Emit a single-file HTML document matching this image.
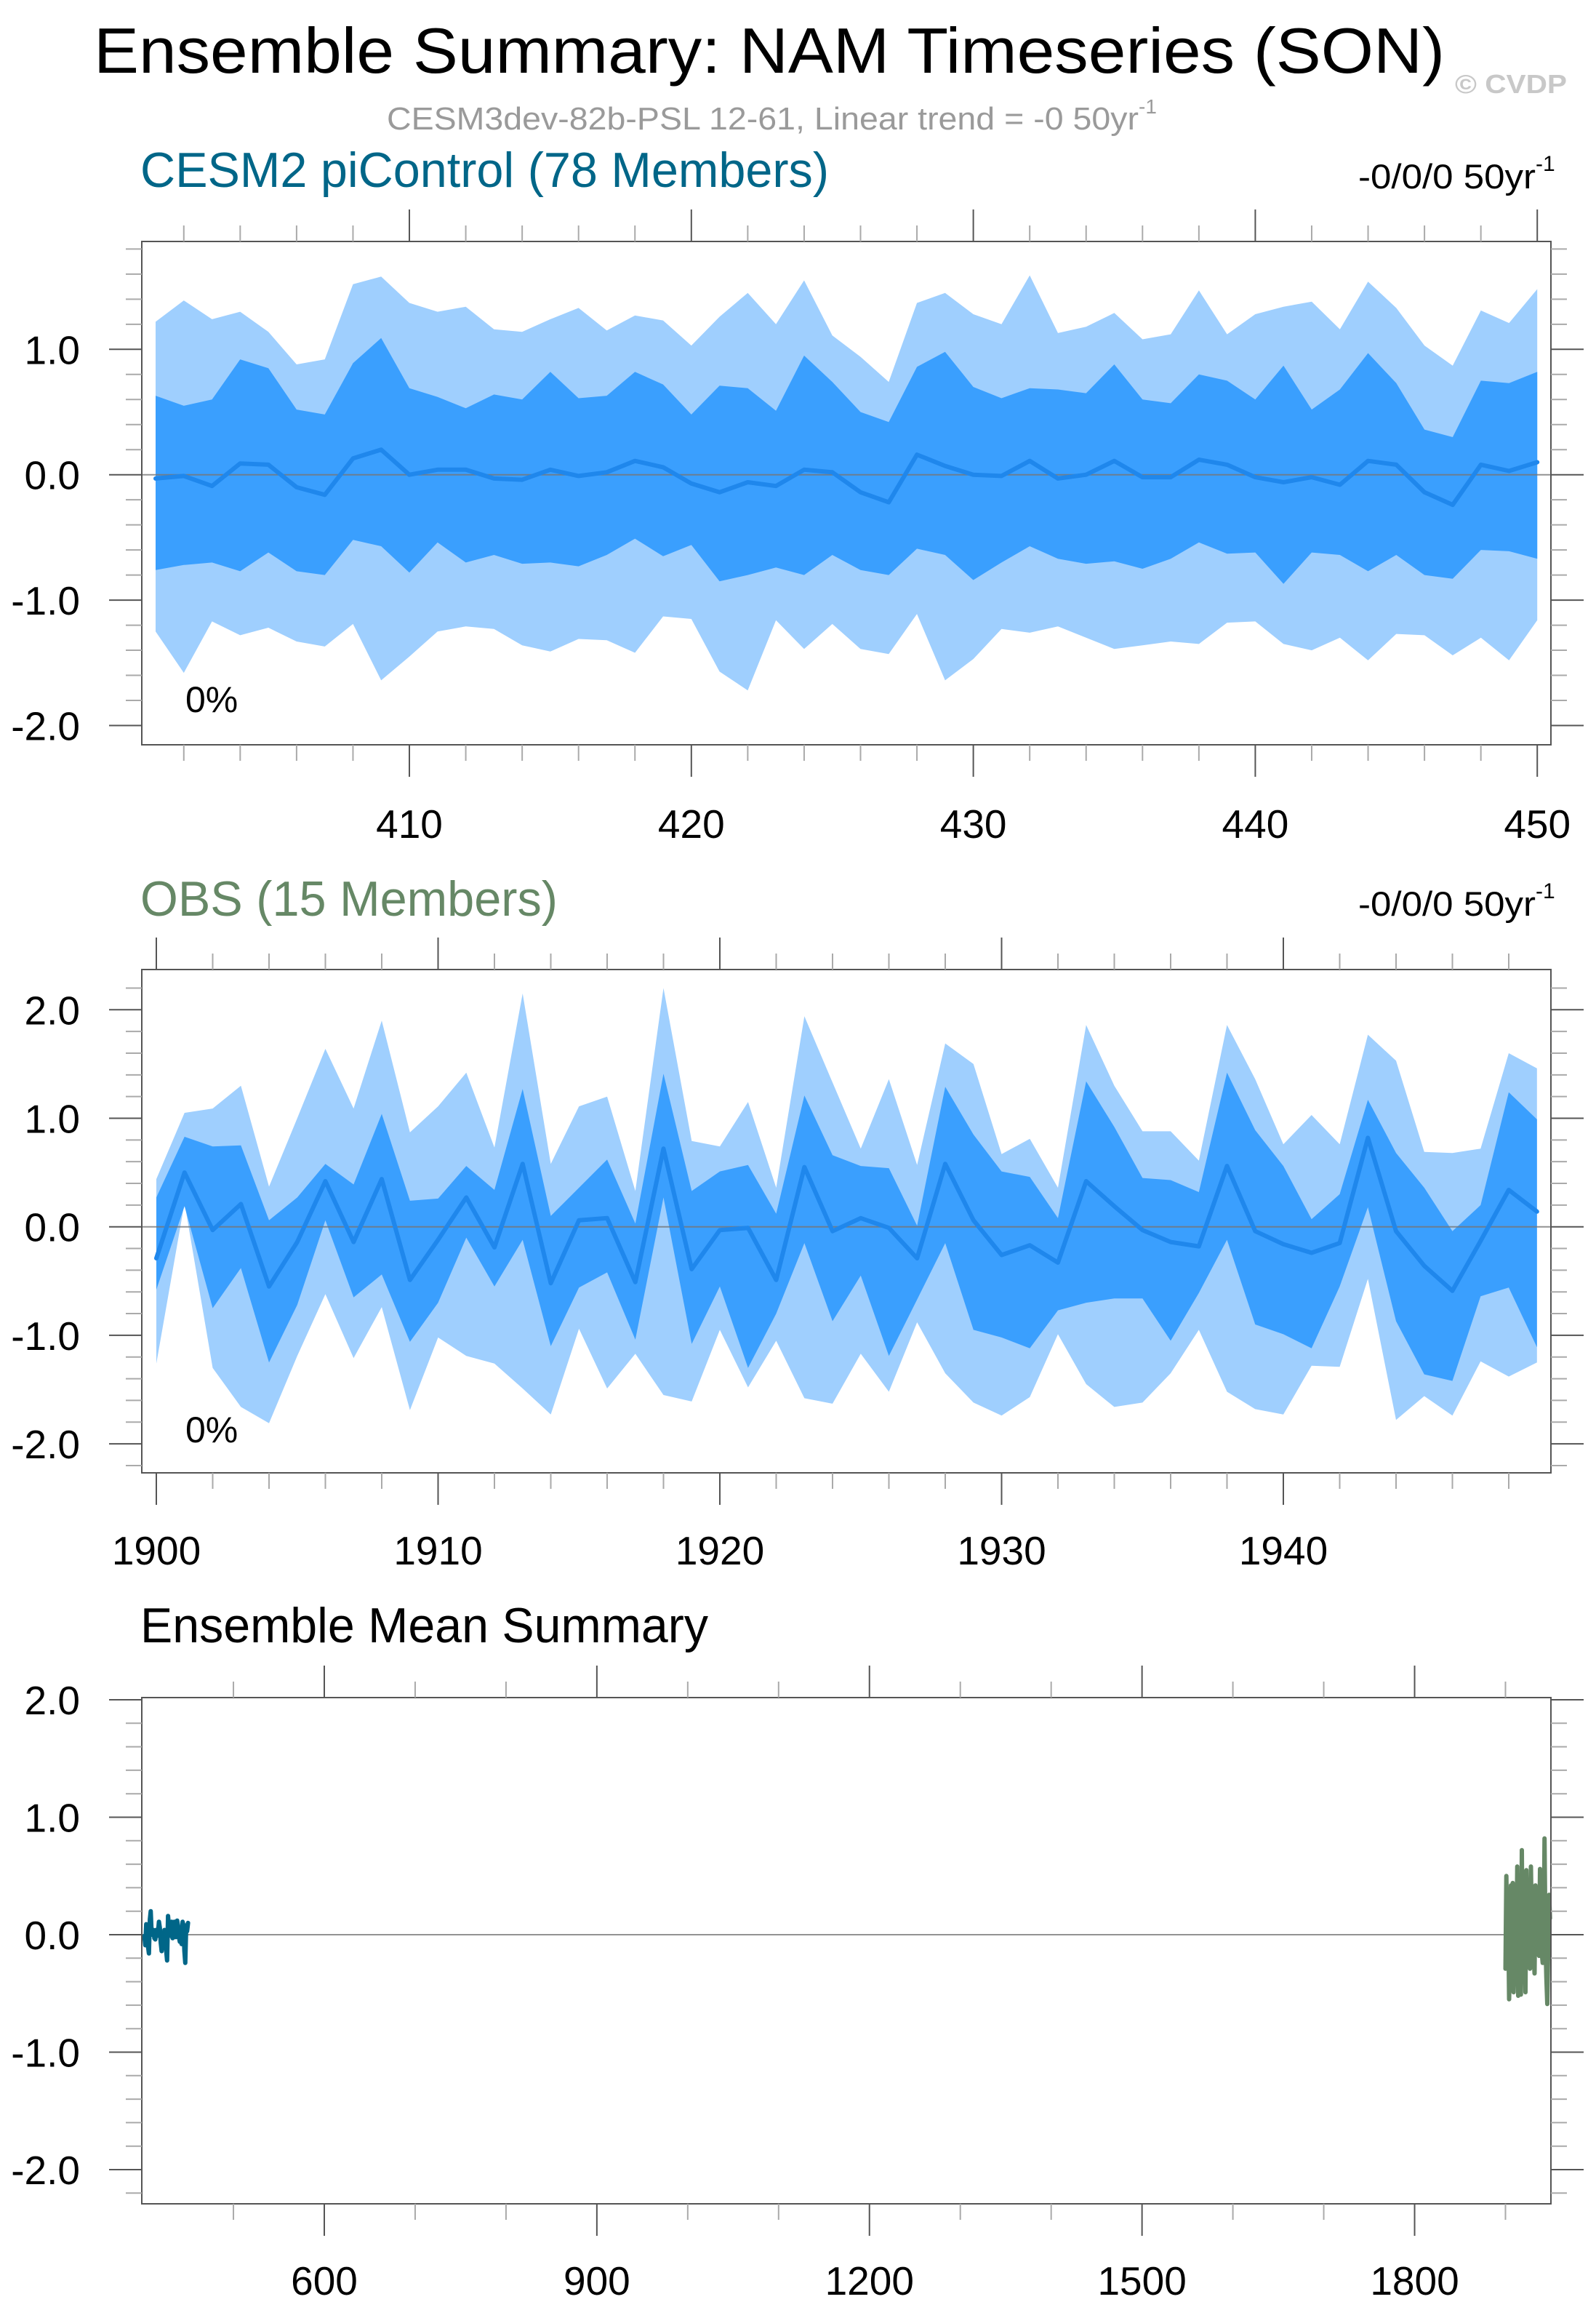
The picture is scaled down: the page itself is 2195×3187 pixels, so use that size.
<!DOCTYPE html>
<html><head><meta charset="utf-8"><title>NAM Timeseries</title>
<style>
html,body{margin:0;padding:0;background:#fff;}
svg{display:block;}
text{font-family:"Liberation Sans",Arial,sans-serif;}
</style></head>
<body>
<svg id="chart" xmlns="http://www.w3.org/2000/svg" width="2195" height="3187" viewBox="0 0 2195 3187">
<rect x="0" y="0" width="2195" height="3187" fill="#fff"/>
<text x="129" y="100" font-size="88" textLength="1858" lengthAdjust="spacingAndGlyphs" fill="#000">Ensemble Summary: NAM Timeseries (SON)</text>
<text x="2001" y="128" font-size="36" font-weight="bold" textLength="154" lengthAdjust="spacingAndGlyphs" fill="#c8c8c8">© CVDP</text>
<text x="532" y="178" font-size="44" fill="#9a9a9a"><tspan textLength="1034" lengthAdjust="spacingAndGlyphs">CESM3dev-82b-PSL 12-61, Linear trend = -0 50yr</tspan><tspan font-size="28" dy="-22">-1</tspan></text>

<text x="193" y="257" font-size="68" textLength="947" lengthAdjust="spacingAndGlyphs" fill="#006688">CESM2 piControl (78 Members)</text>
<text x="1868" y="259" font-size="47" fill="#000"><tspan textLength="244" lengthAdjust="spacingAndGlyphs">-0/0/0 50yr</tspan><tspan font-size="30" dy="-24">-1</tspan></text>

<text x="193" y="1259" font-size="68" textLength="574" lengthAdjust="spacingAndGlyphs" fill="#668866">OBS (15 Members)</text>
<text x="1868" y="1259" font-size="47" fill="#000"><tspan textLength="244" lengthAdjust="spacingAndGlyphs">-0/0/0 50yr</tspan><tspan font-size="30" dy="-24">-1</tspan></text>

<text x="193" y="2258" font-size="68" textLength="781" lengthAdjust="spacingAndGlyphs" fill="#000">Ensemble Mean Summary</text>

<g id="p1"></g>
<g id="p2"></g>
<g id="p3"></g>
</svg>
<script>
// ---- CESM2 piControl (years 401-450)
const cesmYears = Array.from({length:50},(_,i)=>401+i);
const cesmOuterHi = [1.22,1.39,1.24,1.30,1.14,0.88,0.92,1.52,1.58,1.37,1.30,1.34,1.16,1.14,1.24,1.33,1.15,1.27,1.23,1.03,1.26,1.45,1.20,1.55,1.11,0.94,0.74,1.37,1.45,1.28,1.20,1.59,1.13,1.18,1.29,1.08,1.12,1.47,1.12,1.28,1.34,1.38,1.16,1.54,1.33,1.03,0.87,1.31,1.21,1.48];
const cesmInnerHi = [0.63,0.55,0.60,0.92,0.85,0.52,0.48,0.89,1.09,0.69,0.62,0.53,0.64,0.60,0.82,0.61,0.63,0.82,0.72,0.48,0.71,0.69,0.51,0.95,0.74,0.50,0.42,0.86,0.98,0.70,0.61,0.69,0.68,0.65,0.88,0.60,0.57,0.80,0.75,0.60,0.87,0.52,0.68,0.97,0.73,0.36,0.30,0.75,0.73,0.82];
const cesmMean = [-0.03,-0.01,-0.09,0.09,0.08,-0.10,-0.16,0.13,0.20,0.00,0.04,0.04,-0.03,-0.04,0.04,-0.01,0.02,0.11,0.06,-0.07,-0.14,-0.06,-0.09,0.04,0.02,-0.14,-0.22,0.16,0.07,0.00,-0.01,0.11,-0.03,0.00,0.11,-0.02,-0.02,0.12,0.08,-0.02,-0.06,-0.02,-0.08,0.11,0.08,-0.14,-0.24,0.08,0.03,0.10];
const cesmInnerLo = [-0.76,-0.72,-0.70,-0.77,-0.62,-0.77,-0.80,-0.52,-0.57,-0.78,-0.54,-0.70,-0.64,-0.71,-0.70,-0.73,-0.64,-0.51,-0.65,-0.56,-0.85,-0.80,-0.74,-0.80,-0.64,-0.76,-0.80,-0.59,-0.64,-0.84,-0.70,-0.57,-0.67,-0.71,-0.69,-0.75,-0.67,-0.54,-0.63,-0.62,-0.87,-0.62,-0.64,-0.77,-0.64,-0.80,-0.83,-0.60,-0.61,-0.67];
const cesmOuterLo = [-1.25,-1.58,-1.17,-1.28,-1.22,-1.33,-1.37,-1.19,-1.64,-1.45,-1.25,-1.21,-1.23,-1.36,-1.41,-1.31,-1.32,-1.42,-1.13,-1.15,-1.57,-1.72,-1.16,-1.39,-1.19,-1.39,-1.43,-1.11,-1.64,-1.47,-1.23,-1.26,-1.21,-1.30,-1.39,-1.36,-1.33,-1.35,-1.18,-1.17,-1.35,-1.40,-1.30,-1.48,-1.27,-1.28,-1.44,-1.30,-1.48,-1.16];
// ---- OBS (years 1900-1949)
const obsYears = Array.from({length:50},(_,i)=>1900+i);
const obsOuterHi = [0.44,1.05,1.09,1.30,0.37,1.00,1.64,1.09,1.90,0.87,1.11,1.42,0.73,2.15,0.58,1.11,1.20,0.33,2.20,0.79,0.74,1.15,0.36,1.94,1.33,0.72,1.36,0.57,1.69,1.50,0.67,0.81,0.36,1.86,1.30,0.88,0.88,0.61,1.86,1.36,0.76,1.03,0.76,1.77,1.53,0.69,0.68,0.72,1.60,1.46];
const obsInnerHi = [0.27,0.83,0.74,0.75,0.06,0.27,0.58,0.39,1.04,0.24,0.26,0.56,0.34,1.27,0.10,0.36,0.62,0.03,1.41,0.33,0.51,0.57,0.12,1.21,0.66,0.56,0.54,0.01,1.29,0.85,0.51,0.46,0.08,1.34,0.92,0.45,0.43,0.32,1.42,0.89,0.56,0.07,0.30,1.17,0.68,0.36,-0.04,0.20,1.24,0.99];
const obsMean = [-0.29,0.50,-0.03,0.21,-0.55,-0.14,0.42,-0.14,0.44,-0.49,-0.12,0.27,-0.19,0.58,-0.52,0.06,0.08,-0.51,0.72,-0.39,-0.03,-0.01,-0.49,0.55,-0.04,0.08,-0.01,-0.29,0.58,0.06,-0.26,-0.17,-0.33,0.42,0.19,-0.03,-0.14,-0.18,0.56,-0.04,-0.16,-0.24,-0.15,0.82,-0.04,-0.36,-0.59,-0.13,0.34,0.14];
const obsInnerLo = [-0.58,0.19,-0.75,-0.38,-1.25,-0.72,0.06,-0.65,-0.44,-1.06,-0.70,-0.10,-0.55,-0.12,-1.10,-0.56,-0.42,-1.04,0.27,-1.08,-0.55,-1.30,-0.80,-0.15,-0.87,-0.45,-1.19,-0.67,-0.15,-0.95,-1.02,-1.12,-0.77,-0.70,-0.66,-0.66,-1.05,-0.61,-0.12,-0.90,-0.99,-1.12,-0.55,0.18,-0.87,-1.36,-1.42,-0.64,-0.56,-1.11];
const obsOuterLo = [-1.26,0.22,-1.30,-1.66,-1.81,-1.19,-0.62,-1.21,-0.74,-1.69,-1.02,-1.19,-1.26,-1.49,-1.73,-0.94,-1.49,-1.17,-1.55,-1.61,-0.95,-1.48,-1.05,-1.58,-1.63,-1.17,-1.52,-0.88,-1.35,-1.62,-1.74,-1.57,-0.99,-1.45,-1.66,-1.62,-1.35,-0.95,-1.52,-1.68,-1.73,-1.28,-1.29,-0.48,-1.78,-1.56,-1.74,-1.24,-1.38,-1.25];
// ---- tick labels
const p1XTicks = [410,420,430,440,450];
const p2XTicks = [1900,1910,1920,1930,1940];
const p3XTicks = [600,900,1200,1500,1800];
const p1YTicks = [1.0,0.0,-1.0,-2.0];
const p2YTicks = [2.0,1.0,0.0,-1.0,-2.0];
const p3YTicks = [2.0,1.0,0.0,-1.0,-2.0];

const NS="http://www.w3.org/2000/svg";
function mk(parent,tag,attrs){const e=document.createElementNS(NS,tag);for(const k in attrs)e.setAttribute(k,attrs[k]);parent.appendChild(e);return e;}

function drawFrame(g,cfg){
  const {L,R,T,B,sx,sy,yMinorFrom,yMinorTo,xMajor,xMinorFrom,xMinorTo,xMinorStep,yTicks,labelY}=cfg;
  for(let v=yMinorFrom; v>=yMinorTo-1e-9; v-=0.2){
    const y=sy(v); const major=Math.abs(v-Math.round(v))<1e-6;
    const len=major?45:22;
    const t1=mk(g,'line',{x1:L-len,x2:L,y1:y,y2:y,stroke:major?'#555':'#aaa','stroke-width':2});
    
    
    const t2=mk(g,'line',{x1:R,x2:R+len,y1:y,y2:y,stroke:major?'#555':'#aaa','stroke-width':2});
    
    
  }
  yTicks.forEach(v=>{
    const t=mk(g,'text',{x:110,y:sy(v)+20,'font-size':55,'text-anchor':'end',fill:'#000'});
    t.textContent=v.toFixed(1);
    
    
  });
  for(let v=xMinorFrom; v<=xMinorTo+1e-9; v+=xMinorStep){
    const x=sx(v); const major=xMajor.includes(v);
    const len=major?44:22;
    const a=mk(g,'line',{x1:x,x2:x,y1:T-len,y2:T,stroke:major?'#555':'#aaa','stroke-width':2});
    
    
    const b=mk(g,'line',{x1:x,x2:x,y1:B,y2:B+len,stroke:major?'#555':'#aaa','stroke-width':2});
    
    
  }
  xMajor.forEach(v=>{
    const t=mk(g,'text',{x:sx(v),y:labelY,'font-size':55,'text-anchor':'middle',fill:'#000'});
    t.textContent=String(v);
    
    
  });
}
function border(g,L,R,T,B){
  const r=mk(g,'rect',{x:L,y:T,width:R-L,height:B-T,fill:'none',stroke:'#555','stroke-width':2});
  
  
}
function band(g,xs,hi,lo,sx,sy,color,name){
  let d='';
  xs.forEach((x,i)=>{d+=(i?'L':'M')+sx(x).toFixed(1)+','+sy(hi[i]).toFixed(1);});
  for(let i=xs.length-1;i>=0;i--) d+='L'+sx(xs[i]).toFixed(1)+','+sy(lo[i]).toFixed(1);
  const p=mk(g,'path',{d:d+'Z',fill:color});
  
  
}
function line(g,xs,ys,sx,sy,color,w,name){
  const pts=xs.map((x,i)=>sx(x).toFixed(1)+','+sy(ys[i]).toFixed(1)).join(' ');
  const p=mk(g,'polyline',{points:pts,fill:'none',stroke:color,'stroke-width':w,'stroke-linejoin':'round','stroke-linecap':'round'});
  
  
}
function zero(g,L,R,y){
  const z=mk(g,'line',{x1:L,x2:R,y1:y,y2:y,stroke:'#777','stroke-width':2,opacity:0.8});
  
  
}
function pct(g,x,y){
  const t=mk(g,'text',{x:x,y:y,'font-size':50,fill:'#000'});
  t.textContent='0%';
  
  
}

(function(){
  const g=document.getElementById('p1');
  const L=195,R=2133,T=332,B=1024;
  const sx=v=>214+(v-401)*38.78;
  const sy=v=>652.7-v*172.4;
  band(g,cesmYears,cesmOuterHi,cesmOuterLo,sx,sy,'#9fcffe','outer-spread-band');
  band(g,cesmYears,cesmInnerHi,cesmInnerLo,sx,sy,'#3a9ffe','inner-spread-band');
  zero(g,L,R,sy(0));
  line(g,cesmYears,cesmMean,sx,sy,'#1f87ec',6,'ensemble-mean-line');
  border(g,L,R,T,B);
  drawFrame(g,{L,R,T,B,sx,sy,yMinorFrom:1.8,yMinorTo:-2.0,xMajor:p1XTicks,xMinorFrom:402,xMinorTo:450,xMinorStep:2,yTicks:p1YTicks,labelY:1152});
  pct(g,255,979);
})();
(function(){
  const g=document.getElementById('p2');
  const L=195,R=2133,T=1333,B=2025;
  const sx=v=>215+(v-1900)*38.75;
  const sy=v=>1686.7-v*149.2;
  band(g,obsYears,obsOuterHi,obsOuterLo,sx,sy,'#9fcffe','outer-spread-band');
  band(g,obsYears,obsInnerHi,obsInnerLo,sx,sy,'#3a9ffe','inner-spread-band');
  zero(g,L,R,sy(0));
  line(g,obsYears,obsMean,sx,sy,'#1f87ec',6,'ensemble-mean-line');
  border(g,L,R,T,B);
  drawFrame(g,{L,R,T,B,sx,sy,yMinorFrom:2.2,yMinorTo:-2.2,xMajor:p2XTicks,xMinorFrom:1900,xMinorTo:1948,xMinorStep:2,yTicks:p2YTicks,labelY:2151});
  pct(g,255,1983);
})();
(function(){
  const g=document.getElementById('p3');
  const L=195,R=2133,T=2334,B=3030;
  const sx=v=>446+(v-600)*1.2496;
  const sy=v=>2660-v*161.5;
  zero(g,L,R,sy(0));
  line(g,cesmYears,cesmMean,sx,sy,'#006688',6,'cesm2-mean-line');
  line(g,obsYears,obsMean,sx,sy,'#668866',6,'obs-mean-line');
  border(g,L,R,T,B);
  drawFrame(g,{L,R,T,B,sx,sy,yMinorFrom:2.0,yMinorTo:-2.2,xMajor:p3XTicks,xMinorFrom:500,xMinorTo:1900,xMinorStep:100,yTicks:p3YTicks,labelY:3155});
})();
</script>
</body></html>
